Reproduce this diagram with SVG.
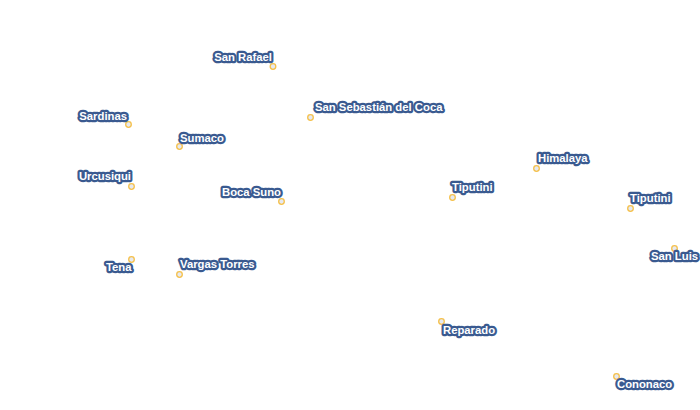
<svg xmlns="http://www.w3.org/2000/svg" width="700" height="410" viewBox="0 0 700 410">
<style>
.d{fill:#e6e9f0;stroke:#f5c04a;stroke-width:1.300}
text{font-family:"Liberation Sans",Arial,sans-serif;font-size:11.300px;font-weight:bold;fill:#fff;stroke:#3a5a90;stroke-width:4.500px;paint-order:stroke;stroke-linejoin:round}
.e{text-anchor:end}
</style>
<rect width="700" height="410" fill="#fff"/>
<g id="n1"><circle class="d" cx="273" cy="66.500" r="2.800"/><text class="e" x="272" y="61">San Rafael</text></g>
<g id="n2"><circle class="d" cx="310.500" cy="117.500" r="2.800"/><text x="315" y="111">San Sebastián del Coca</text></g>
<g id="n3"><circle class="d" cx="128.500" cy="124.500" r="2.800"/><text class="e" x="127" y="120">Sardinas</text></g>
<g id="n4"><circle class="d" cx="179.500" cy="146.500" r="2.800"/><text x="180" y="142">Sumaco</text></g>
<g id="n5"><circle class="d" cx="131.500" cy="186.500" r="2.800"/><text class="e" x="131" y="180">Urcusiqui</text></g>
<g id="n6"><circle class="d" cx="281.500" cy="201.500" r="2.800"/><text class="e" x="281" y="196">Boca Suno</text></g>
<g id="n7"><circle class="d" cx="131.500" cy="259.500" r="2.800"/><text class="e" x="131.500" y="271">Tena</text></g>
<g id="n8"><circle class="d" cx="179.500" cy="274.500" r="2.800"/><text x="180" y="268">Vargas Torres</text></g>
<g id="n9"><circle class="d" cx="452.500" cy="197.500" r="2.800"/><text x="452" y="191">Tiputini</text></g>
<g id="n10"><circle class="d" cx="536.500" cy="168.500" r="2.800"/><text x="538" y="162">Himalaya</text></g>
<g id="n11"><circle class="d" cx="630.500" cy="208.500" r="2.800"/><text x="630" y="202">Tiputini</text></g>
<g id="n12"><circle class="d" cx="674.500" cy="248.500" r="2.800"/><text x="651" y="260">San Luis</text></g>
<g id="n13"><circle class="d" cx="441.500" cy="321.500" r="2.800"/><text x="443" y="334">Reparado</text></g>
<g id="n14"><circle class="d" cx="616.500" cy="376.500" r="2.800"/><text x="617" y="388">Cononaco</text></g>
<g id="connectors"/>
</svg>
